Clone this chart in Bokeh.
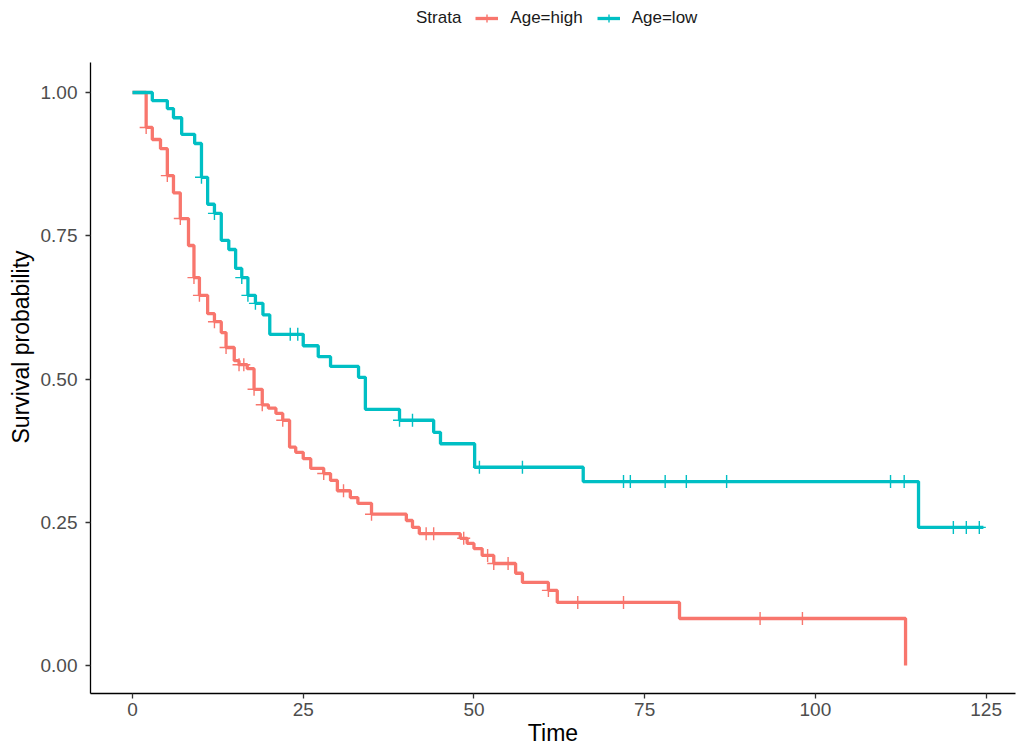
import numpy as np
from bokeh.plotting import figure
from bokeh.models import Range1d, Legend, LegendItem, NumeralTickFormatter
from bokeh.embed import file_html
from bokeh.resources import INLINE

# ---- data ----
high_time = [0, 2.0, 2.9, 4.1, 5.1, 6.0, 7.0, 8.2, 9.0, 9.8, 11.0, 12.0, 13.0, 13.7,
             14.9, 15.6, 16.8, 17.8, 19.0, 19.9, 21.0, 22.0, 23.0, 23.9, 25.0, 26.1,
             28.0, 29.0, 30.0, 31.9, 33.0, 35.0, 40.1, 41.0, 42.0, 48.0, 49.0, 50.0,
             51.2, 52.9, 56.1, 57.1, 60.9, 62.2, 80.1, 113.2]
high_surv = [1.0, 0.939, 0.918, 0.902, 0.855, 0.825, 0.780, 0.733, 0.677, 0.646, 0.614,
             0.600, 0.581, 0.555, 0.532, 0.525, 0.518, 0.482, 0.455, 0.449, 0.440, 0.428,
             0.381, 0.372, 0.361, 0.344, 0.335, 0.323, 0.305, 0.293, 0.283, 0.264, 0.253,
             0.241, 0.230, 0.222, 0.213, 0.204, 0.192, 0.178, 0.161, 0.145, 0.131, 0.110,
             0.082, 0.0]
high_censor = [2.0, 5.1, 7.0, 9.0, 9.8, 12.0, 13.7, 15.6, 16.3, 17.8, 19.0, 22.0, 28.0,
               30.9, 35.0, 43.0, 44.1, 48.5, 52.0, 52.9, 55.0, 60.9, 65.2, 71.9, 91.9, 98.1]

low_time = [0, 2.9, 5.1, 6.0, 7.2, 9.1, 10.1, 11.0, 12.0, 13.0, 14.1, 15.1, 16.0, 16.9,
            18.0, 19.1, 20.1, 25.0, 27.2, 29.0, 33.1, 34.1, 39.1, 44.1, 45.1, 50.1, 66.0,
            115.1, 124.6]
low_surv = [1.0, 0.986, 0.972, 0.956, 0.927, 0.911, 0.852, 0.805, 0.789, 0.742, 0.726,
            0.693, 0.677, 0.646, 0.632, 0.612, 0.578, 0.558, 0.539, 0.522, 0.503, 0.447,
            0.428, 0.407, 0.387, 0.346, 0.321, 0.241, 0.241]
low_censor = [10.1, 12.0, 16.0, 16.9, 18.0, 23.1, 24.2, 39.1, 41.0, 50.8, 57.1, 71.9, 72.9,
              78.0, 81.1, 87.0, 111.0, 113.0, 120.2, 122.1, 124.0]

legend_title = "Strata"
strata = ["Age=high", "Age=low"]
colors = ["#F8766D", "#00BFC4"]
x_ticks = [0, 25, 50, 75, 100, 125]
y_ticks = [0, 0.25, 0.5, 0.75, 1.0]


def surv_at(times, surv, t):
    idx = np.searchsorted(np.array(times), np.array(t), side="right") - 1
    return list(np.array(surv)[idx])


FONT = "Liberation Sans"

# frame spans the full height above the x axis; the y axis line is bounded
Y_LO, Y_AXIS_TOP, Y_HI = -0.0489, 1.0524, 1.1606

p = figure(width=1019, height=748, output_backend="svg", toolbar_location=None,
           x_range=Range1d(-6.15, 129.3), y_range=Range1d(Y_LO, Y_HI),
           min_border_left=90, min_border_right=4, min_border_top=0, min_border_bottom=55)

p.grid.visible = False
p.outline_line_color = None

for ax in (p.xaxis, p.yaxis):
    ax.axis_line_width = 1.3
    ax.axis_line_color = "#000000"
    ax.major_tick_line_color = "#333333"
    ax.major_tick_line_width = 1.3
    ax.major_tick_out = 5
    ax.major_tick_in = 0
    ax.minor_tick_line_color = None
    ax.major_label_text_font = FONT
    ax.major_label_text_font_size = "19px"
    ax.major_label_text_color = "#4d4d4d"
    ax.major_label_text_line_height = 1.0
    ax.axis_label_text_font = FONT
    ax.axis_label_text_font_size = "23px"
    ax.axis_label_text_font_style = "normal"
    ax.axis_label_text_color = "#000000"
    ax.axis_label_text_line_height = 1.0

p.xaxis.ticker = x_ticks
p.yaxis.ticker = y_ticks
p.yaxis.bounds = (Y_LO, Y_AXIS_TOP)
p.yaxis.formatter = NumeralTickFormatter(format="0.00")
p.xaxis.axis_label = "Time"
p.yaxis.axis_label = "Survival probability"
p.xaxis.major_label_standoff = 4
p.yaxis.major_label_standoff = 8
p.xaxis.axis_label_standoff = 1
p.yaxis.axis_label_standoff = 4

# invisible renderer that carries the legend title as first entry
title_r = p.scatter([0], [1], marker="cross", size=1, alpha=0)
items = [LegendItem(label=legend_title, renderers=[title_r])]
for (times, surv, cens), name, col in zip(
        [(high_time, high_surv, high_censor), (low_time, low_surv, low_censor)],
        strata, colors):
    r1 = p.step(times, surv, mode="after", line_color=col, line_width=3.3)
    r2 = p.scatter(cens, surv_at(times, surv, cens), marker="cross", size=13,
                   line_color=col, line_width=1.4)
    items.append(LegendItem(label=name, renderers=[r1, r2]))

legend = Legend(items=items, orientation="horizontal", location=(291, 665),
                label_text_font=FONT, label_text_font_size="17px",
                label_text_color="#1a1a1a", label_height=20,
                border_line_alpha=0, background_fill_alpha=0,
                glyph_width=23, glyph_height=20, label_standoff=12,
                spacing=14, padding=0, margin=0)
p.add_layout(legend, "center")

open("out.html", "w").write(file_html(p, INLINE))
